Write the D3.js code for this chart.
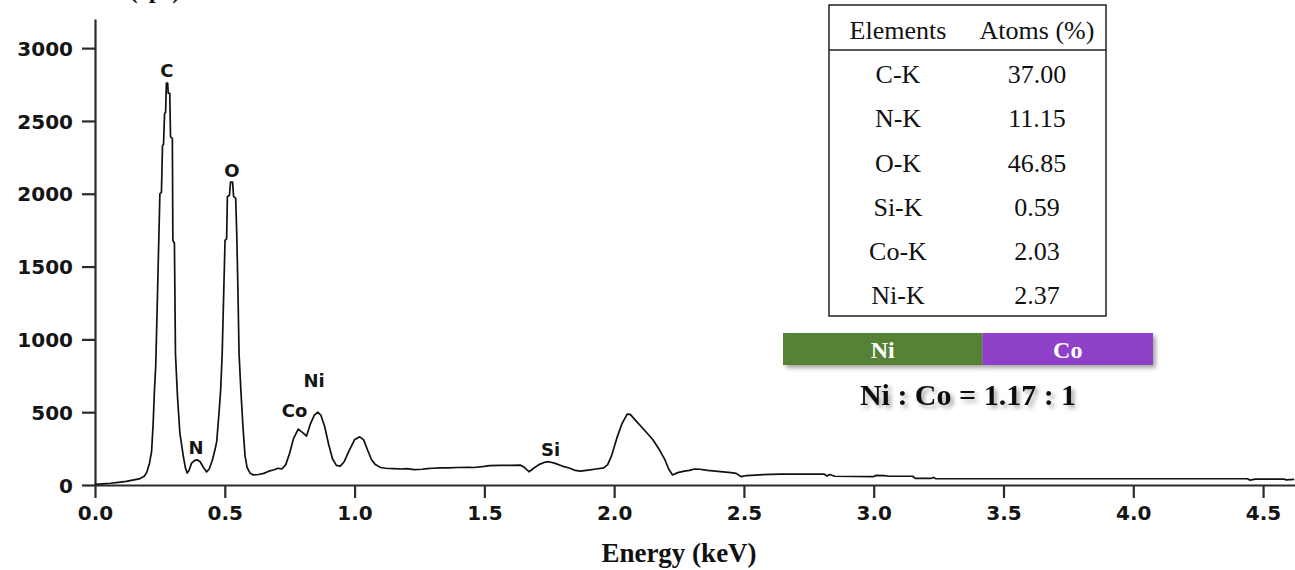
<!DOCTYPE html>
<html>
<head>
<meta charset="utf-8">
<script src="https://cdn.jsdelivr.net/npm/d3@7"></script>
<style>
    html, body { margin: 0; padding: 0; background: #fff; }
    #chart { width: 1295px; height: 570px; overflow: hidden; }
</style>
</head>
<body>
<div id="chart"></div>
<script>
//Datos del espectro EDS (energía en keV, cuentas en cps)
const energy = [
    0.00, 0.03, 0.06, 0.09, 0.12, 0.15, 0.17, 0.19, 0.20, 0.21,
    0.218, 0.224, 0.229, 0.234, 0.240, 0.246, 0.250, 0.256, 0.260, 0.264,
    0.268, 0.272, 0.275, 0.280, 0.282, 0.288, 0.291, 0.298, 0.300, 0.306,
    0.310, 0.318, 0.327, 0.340, 0.348, 0.355, 0.362, 0.372, 0.385, 0.395,
    0.405, 0.418, 0.430, 0.440, 0.452, 0.462, 0.469, 0.478, 0.484, 0.490,
    0.497, 0.501, 0.507, 0.510, 0.518, 0.522, 0.530, 0.534, 0.542, 0.546,
    0.550, 0.555, 0.562, 0.570, 0.578, 0.586, 0.598, 0.610, 0.630, 0.650,
    0.670, 0.690, 0.705, 0.720, 0.735, 0.750, 0.765, 0.783, 0.800, 0.815,
    0.830, 0.845, 0.858, 0.870, 0.885, 0.900, 0.915, 0.930, 0.945, 0.960,
    0.980, 1.000, 1.020, 1.035, 1.050, 1.065, 1.080, 1.100, 1.120, 1.150,
    1.180, 1.200, 1.230, 1.260, 1.280, 1.300, 1.330, 1.360, 1.400, 1.440,
    1.460, 1.500, 1.520, 1.560, 1.600, 1.640, 1.655, 1.672, 1.690, 1.710,
    1.730, 1.748, 1.770, 1.800, 1.830, 1.850, 1.870, 1.900, 1.930, 1.960,
    1.975, 1.990, 2.010, 2.030, 2.050, 2.062, 2.087, 2.110, 2.130, 2.150,
    2.175, 2.196, 2.210, 2.225, 2.245, 2.270, 2.290, 2.310, 2.330, 2.360,
    2.390, 2.420, 2.450, 2.470, 2.490, 2.510, 2.560, 2.640, 2.810, 2.820,
    2.830, 2.850, 3.000, 3.010, 3.040, 3.060, 3.150, 3.160, 3.220, 3.230,
    3.240, 4.440, 4.450, 4.470, 4.580, 4.590, 4.620
];
const counts = [
    5, 8, 12, 18, 25, 35, 42, 60, 90, 150,
    230, 420, 650, 820, 1250, 1700, 2000, 2010, 2330, 2340,
    2550, 2560, 2760, 2760, 2690, 2690, 2390, 2380, 1680, 1660,
    900, 600, 357, 200, 120, 82, 100, 150, 170, 172,
    160, 120, 90, 110, 170, 240, 300, 500, 650, 900,
    1400, 1680, 1690, 1980, 1990, 2080, 2080, 1980, 1970, 1730,
    1400, 900, 650, 400, 200, 120, 80, 69, 72, 80,
    95, 105, 115, 110, 140, 220, 320, 384, 360, 336,
    420, 480, 500, 480, 400, 280, 180, 135, 130, 160,
    240, 310, 331, 310, 240, 175, 140, 120, 115, 113,
    110, 113, 105, 108, 112, 115, 118, 117, 120, 122,
    120, 128, 133, 135, 135, 136, 120, 91, 115, 140,
    155, 160, 150, 130, 115, 100, 95, 102, 110, 118,
    140, 200, 320, 420, 487, 485, 435, 390, 350, 309,
    240, 172, 110, 69, 85, 95, 100, 110, 108, 100,
    95, 90, 85, 80, 57, 65, 70, 75, 74, 62,
    72, 60, 58, 66, 64, 60, 60, 45, 45, 52,
    43, 43, 33, 40, 40, 35, 38
];

//Etiquetas de picos
const peakNames = ['C', 'O', 'N', 'Co', 'Ni', 'Si'];
const peakEnergy = [0.277, 0.527, 0.389, 0.769, 0.844, 1.755];
const peakLabelCounts = [2800, 2115, 213, 467, 673, 199];

//Ticks
const xTicks = [0, 0.5, 1.0, 1.5, 2.0, 2.5, 3.0, 3.5, 4.0, 4.5];
const yTicks = [0, 500, 1000, 1500, 2000, 2500, 3000];

//Tabla de composición
const elements = ['C-K', 'N-K', 'O-K', 'Si-K', 'Co-K', 'Ni-K'];
const atomsPct = ['37.00', '11.15', '46.85', '0.59', '2.03', '2.37'];

//Relación Ni : Co
const ratioNames = ['Ni', 'Co'];
const ratioValues = [1.17, 1];

const COLOR_NI = '#548235',
COLOR_CO = '#8E40C9',
COLOR_AXIS = '#2b2b2b';

let svg = d3.select('#chart')
    .append('svg')
        .attr('width', 1295)
        .attr('height', 570);

let defs = svg.append('defs');
let shadow = defs.append('filter')
    .attr('id', 'shadow')
    .attr('x', '-5%').attr('y', '-20%')
    .attr('width', '115%').attr('height', '160%');
shadow.append('feDropShadow')
    .attr('dx', 3).attr('dy', 3)
    .attr('stdDeviation', 2)
    .attr('flood-color', '#000')
    .attr('flood-opacity', 0.35);

let x = d3.scaleLinear()
    .domain([0, 4.623])
    .range([95, 1295]);

let y = d3.scaleLinear()
    .domain([0, 3200])
    .range([485, 19]);

//Eje X
let xAxis = svg.append('g')
    .attr('transform', 'translate(0,485)')
    .call(d3.axisBottom(x)
        .tickValues(xTicks)
        .tickFormat(d3.format('.1f'))
        .tickSize(13)
        .tickSizeOuter(0)
        .tickPadding(8));

//Eje Y
let yAxis = svg.append('g')
    .attr('transform', 'translate(95,0)')
    .call(d3.axisLeft(y)
        .tickValues(yTicks)
        .tickFormat(d3.format('d'))
        .tickSize(13)
        .tickSizeOuter(0)
        .tickPadding(9));

[xAxis, yAxis].forEach(function(ax) {
    ax.select('.domain').attr('stroke', COLOR_AXIS).attr('stroke-width', 2.2);
    ax.selectAll('.tick line').attr('stroke', COLOR_AXIS).attr('stroke-width', 2.2);
    ax.selectAll('.tick text')
        .attr('fill', '#151515')
        .style('font-family', '"DejaVu Sans", Verdana, sans-serif')
        .style('font-weight', 'bold')
        .style('font-size', '20px');
});
yAxis.selectAll('.tick text').attr('dy', '0.36em');

//Títulos de ejes
svg.append('text')
    .attr('x', 679)
    .attr('y', 562)
    .attr('text-anchor', 'middle')
    .style('font-family', '"Liberation Serif", "Times New Roman", serif')
    .style('font-weight', 'bold')
    .style('font-size', '27px')
    .attr('fill', '#111')
    .text('Energy (keV)');

//Título del eje Y (recortado por arriba, como en el original)
svg.append('text')
    .attr('x', 155)
    .attr('y', -2)
    .attr('text-anchor', 'middle')
    .style('font-family', '"Liberation Serif", "Times New Roman", serif')
    .style('font-weight', 'bold')
    .style('font-size', '25px')
    .attr('fill', '#111')
    .text('(cps)');

//Línea del espectro
let spectrum = energy.map(function(e, i) { return { e: e, c: counts[i] }; });

svg.append('path')
    .datum(spectrum)
    .attr('fill', 'none')
    .attr('stroke', '#111')
    .attr('stroke-width', 1.7)
    .attr('stroke-linejoin', 'round')
    .attr('d', d3.line()
        .x(function(d) { return x(d.e); })
        .y(function(d) { return y(d.c); }));

//Etiquetas de elementos
svg.selectAll('.peak-label')
    .data(peakNames)
    .enter()
    .append('text')
    .attr('class', 'peak-label')
    .attr('x', function(d, i) { return x(peakEnergy[i]); })
    .attr('y', function(d, i) { return y(peakLabelCounts[i]); })
    .attr('text-anchor', 'middle')
    .style('font-family', '"DejaVu Sans", Verdana, sans-serif')
    .style('font-weight', 'bold')
    .style('font-size', '18px')
    .attr('fill', '#151515')
    .text(function(d) { return d; });

//Tabla
let table = { left: 829, right: 1106, top: 5, header: 50, bottom: 316 };
let colElem = 898, colAtoms = 1037;
let rowY = d3.scalePoint()
    .domain(elements)
    .range([74, 295]);

let tbl = svg.append('g');
tbl.append('rect')
    .attr('x', table.left)
    .attr('y', table.top)
    .attr('width', table.right - table.left)
    .attr('height', table.bottom - table.top)
    .attr('fill', '#fff')
    .attr('stroke', '#222')
    .attr('stroke-width', 1.5);
tbl.append('line')
    .attr('x1', table.left).attr('x2', table.right)
    .attr('y1', table.header).attr('y2', table.header)
    .attr('stroke', '#222')
    .attr('stroke-width', 1.5);

let tableFont = function(sel) {
    sel.attr('text-anchor', 'middle')
        .attr('dy', '0.35em')
        .style('font-family', '"Liberation Serif", "Times New Roman", serif')
        .style('font-size', '26px')
        .attr('fill', '#111');
};

tbl.append('text').attr('x', colElem).attr('y', 30).call(tableFont).text('Elements');
tbl.append('text').attr('x', colAtoms).attr('y', 30).call(tableFont).text('Atoms (%)');

tbl.selectAll('.elem')
    .data(elements)
    .enter()
    .append('text')
    .attr('class', 'elem')
    .attr('x', colElem)
    .attr('y', function(d) { return rowY(d); })
    .call(tableFont)
    .text(function(d) { return d; });

tbl.selectAll('.pct')
    .data(atomsPct)
    .enter()
    .append('text')
    .attr('class', 'pct')
    .attr('x', colAtoms)
    .attr('y', function(d, i) { return rowY(elements[i]); })
    .call(tableFont)
    .text(function(d) { return d; });

//Barra Ni : Co
let total = d3.sum(ratioValues);
let barX = d3.scaleLinear()
    .domain([0, total])
    .range([783, 1153]);
let cum = [0];
ratioValues.forEach(function(v, i) { cum.push(cum[i] + v); });

let bar = svg.append('g').attr('filter', 'url(#shadow)');
bar.selectAll('rect')
    .data(ratioNames)
    .enter()
    .append('rect')
    .attr('x', function(d, i) { return barX(cum[i]); })
    .attr('y', 333)
    .attr('width', function(d, i) { return barX(cum[i + 1]) - barX(cum[i]); })
    .attr('height', 32)
    .attr('fill', function(d, i) { return i == 0 ? COLOR_NI : COLOR_CO; });

svg.selectAll('.bar-label')
    .data(ratioNames)
    .enter()
    .append('text')
    .attr('class', 'bar-label')
    .attr('x', function(d, i) { return (barX(cum[i]) + barX(cum[i + 1])) / 2; })
    .attr('y', 350)
    .attr('dy', '0.35em')
    .attr('text-anchor', 'middle')
    .style('font-family', '"Liberation Serif", "Times New Roman", serif')
    .style('font-weight', 'bold')
    .style('font-size', '24px')
    .attr('fill', '#fff')
    .text(function(d) { return d; });

svg.append('text')
    .attr('x', 968)
    .attr('y', 394)
    .attr('dy', '0.35em')
    .attr('text-anchor', 'middle')
    .attr('filter', 'url(#shadow)')
    .style('font-family', '"Liberation Serif", "Times New Roman", serif')
    .style('font-weight', 'bold')
    .style('font-size', '30px')
    .attr('fill', '#111')
    .text('Ni : Co = ' + d3.format('.2f')(ratioValues[0] / ratioValues[1]) + ' : 1');
</script>
</body>
</html>
